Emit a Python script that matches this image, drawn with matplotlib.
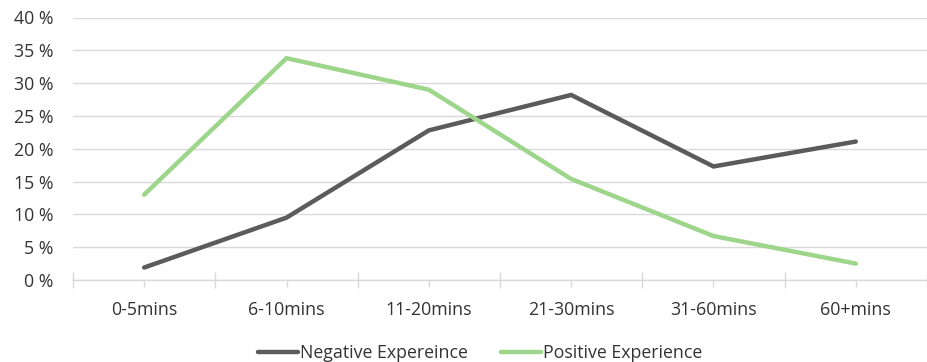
import matplotlib
matplotlib.use("Agg")
import matplotlib.pyplot as plt
from matplotlib.ticker import FixedLocator, FuncFormatter

categories = ["0-5mins", "6-10mins", "11-20mins", "21-30mins", "31-60mins", "60+mins"]
negative = [1.9, 9.5, 22.8, 28.2, 17.3, 21.1]
positive = [13.0, 33.8, 29.0, 15.4, 6.7, 2.5]
series_names = ["Negative Expereince", "Positive Experience"]
y_ticks = [0, 5, 10, 15, 20, 25, 30, 35, 40]

plt.rcParams["font.family"] = ["Open Sans", "DejaVu Sans"]
text_color = "#333333"
grid_color = "#d9d9d9"
fs = 12.8

fig = plt.figure(figsize=(9.27, 3.62), dpi=100)
ax = fig.add_axes([73 / 927, 1 - 280 / 362, 1 - 73 / 927, (280 - 17.5) / 362])

x = list(range(len(categories)))
ax.plot(x, negative, color="#5b5b5b", lw=3.2, solid_capstyle="round",
        solid_joinstyle="miter", label=series_names[0], zorder=3)
ax.plot(x, positive, color="#9dd58a", lw=3.2, solid_capstyle="round",
        solid_joinstyle="miter", label=series_names[1], zorder=3)

ax.set_xlim(-0.5, len(categories) - 0.5)
ax.set_ylim(0, 40)

ax.yaxis.set_major_locator(FixedLocator(y_ticks))
ax.yaxis.set_major_formatter(FuncFormatter(lambda v, p: f"{v:.0f} %"))
ax.tick_params(axis="y", length=0, pad=14, labelsize=fs, labelcolor=text_color)
ax.grid(axis="y", color=grid_color, lw=1)
ax.set_axisbelow(True)

# boundaries between categories get the long ticks, centres carry the labels
ax.xaxis.set_major_locator(FixedLocator([i - 0.5 for i in range(len(categories) + 1)]))
ax.xaxis.set_major_formatter(FuncFormatter(lambda v, p: ""))
ax.xaxis.set_minor_locator(FixedLocator(x))
ax.set_xticklabels(categories, minor=True)
ax.tick_params(axis="x", which="major", length=12, direction="inout", color=grid_color, width=1)
ax.tick_params(axis="x", which="minor", length=5, direction="out", color=grid_color, width=1,
               pad=10, labelsize=fs, labelcolor=text_color)

for side in ["left", "right", "top"]:
    ax.spines[side].set_visible(False)
ax.spines["bottom"].set_color(grid_color)
ax.spines["bottom"].set_linewidth(1)

leg = fig.legend(loc="center", bbox_to_anchor=(480 / 927, 1 - 353 / 362), ncol=2, frameon=False,
                 fontsize=fs, handlelength=2.25, handletextpad=0.1, columnspacing=1.9)
for t in leg.get_texts():
    t.set_color(text_color)

fig.savefig("out.png", dpi=100)
